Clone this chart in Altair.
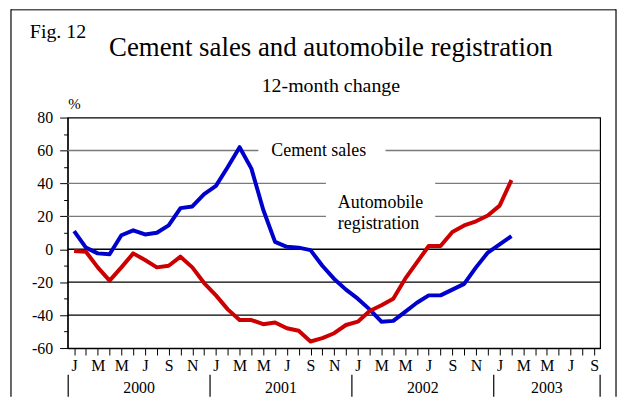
import altair as alt
import pandas as pd

# ---- data ----
month_letters = ["J", "F", "M", "A", "M", "J", "J", "A", "S", "O", "N", "D"]
tick_months = list(range(45))          # Jan 2000 .. Sep 2003
years = ["2000", "2001", "2002", "2003"]
year_centers = [5.5, 17.5, 29.5, 40.0]
year_bounds = [-0.5, 11.5, 23.5, 35.5, 44.5]
months = list(range(38))               # Jan 2000 .. Feb 2003
cement = [11, 1, -2.5, -3, 8.5, 11.5, 9, 10, 14.5, 25, 26, 33.5,
          38.5, 50, 62, 49, 24, 4.5, 1.5, 1, -0.5, -10, -18, -24.5,
          -30, -36.5, -44, -43.5, -38, -32.5, -28, -28, -24.5, -21, -11, -2,
          3, 8]
auto = [-1, -1.5, -11, -19, -11, -2.5, -6.5, -11, -10, -4.5, -11, -20.5,
        -28, -36.5, -43, -43, -45.5, -44.5, -48, -49.5, -56, -54, -51, -46,
        -44, -37.5, -34, -30, -18, -8, 2, 2, 10.5, 14.5, 17, 20.5,
        26.5, 42]
grid_vals = [60, 40, 20, 0, -20, -40]
grid_colors = ["#7a7a7a", "#7a7a7a", "#7a7a7a", "#000000", "#000000", "#000000"]
y_ticks = list(range(-60, 81, 10))
series_names = ["Cement sales", "Automobile registration"]
series_colors = ["#0000cc", "#cc0000"]

FONT = "Liberation Serif"

df = pd.DataFrame({
    "m": months * 2,
    "v": cement + auto,
    "s": [series_names[0]] * len(months) + [series_names[1]] * len(months),
})
grid_df = pd.DataFrame({"v": grid_vals, "c": grid_colors})
year_df = pd.DataFrame({"x": year_centers, "t": years})
bound_df = pd.DataFrame({"x": year_bounds})
one = pd.DataFrame({"a": [0]})

letters_js = "[" + ",".join("'%s'" % l for l in month_letters) + "]"

xscale = alt.Scale(domain=[-0.55, 44.5], nice=False, zero=False)
yscale = alt.Scale(domain=[-60, 80], nice=False, zero=False)

common = dict(
    grid=False, title=None, labelOverlap=False, labelFlush=False, labelBound=False,
    labelFont=FONT, labelFontSize=16, labelColor="black",
    domainColor="black", tickColor="black", domainWidth=1.2, tickWidth=1,
)
x_axis = alt.Axis(
    values=tick_months,
    labelExpr="datum.value % 2 === 0 ? " + letters_js + "[datum.value % 12] : ''",
    tickSize=7, labelPadding=3, labelAngle=0, **common,
)
y_axis = alt.Axis(
    values=y_ticks,
    labelExpr="datum.value % 20 === 0 ? '' + datum.value : ''",
    tickSize={"condition": {"test": "datum.value % 20 === 0", "value": 8}, "value": 4},
    labelPadding=7, **common,
)

grid = alt.Chart(grid_df).mark_rule(strokeWidth=1.3).encode(
    y=alt.Y("v:Q", scale=yscale, axis=y_axis),
    color=alt.Color("c:N", scale=None),
)

# white boxes behind the in-plot labels (pixel positions)
gap1 = alt.Chart(one).mark_rect(fill="white").encode(
    x=alt.value(192), x2=alt.value(320), y=alt.value(23), y2=alt.value(43))
gap2 = alt.Chart(one).mark_rect(fill="white").encode(
    x=alt.value(260), x2=alt.value(370), y=alt.value(55), y2=alt.value(112))

lbl1 = alt.Chart(one).mark_text(
    text="Cement sales", font=FONT, fontSize=18, align="left", baseline="middle", color="black"
).encode(x=alt.value(205), y=alt.value(34))
lbl2 = alt.Chart(one).mark_text(
    text=["Automobile", "registration"], font=FONT, fontSize=18, align="left",
    baseline="alphabetic", lineHeight=21, color="black"
).encode(x=alt.value(272), y=alt.value(91))

lines = alt.Chart(df).mark_line(strokeWidth=4, strokeJoin="round").encode(
    x=alt.X("m:Q", scale=xscale, axis=x_axis),
    y=alt.Y("v:Q", scale=yscale, axis=y_axis),
    color=alt.Color("s:N", scale=alt.Scale(domain=series_names, range=series_colors), legend=None),
    order=alt.Order("m:Q"),
)

year_lbl = alt.Chart(year_df).mark_text(
    font=FONT, fontSize=16, baseline="middle", align="center", color="black"
).encode(x=alt.X("x:Q", scale=xscale, axis=x_axis), y=alt.value(272), text="t:N")
year_sep = alt.Chart(bound_df).mark_rule(color="black", strokeWidth=1.2).encode(
    x=alt.X("x:Q", scale=xscale, axis=x_axis), y=alt.value(259), y2=alt.value(281))

title = alt.Chart(one).mark_text(
    text="Cement sales and automobile registration", font=FONT, fontSize=27,
    align="center", baseline="alphabetic", color="black"
).encode(x=alt.value(265), y=alt.value(-62))
subtitle = alt.Chart(one).mark_text(
    text="12-month change", font=FONT, fontSize=20,
    align="center", baseline="alphabetic", color="black"
).encode(x=alt.value(265), y=alt.value(-26))
fig = alt.Chart(one).mark_text(
    text="Fig. 12", font=FONT, fontSize=20, align="left", baseline="alphabetic", color="black"
).encode(x=alt.value(-38), y=alt.value(-80))
pct = alt.Chart(one).mark_text(
    text="%", font=FONT, fontSize=15, align="center", baseline="alphabetic", color="black"
).encode(x=alt.value(7), y=alt.value(-9))

frame_top = alt.Chart(one).mark_rule(color="#555555", strokeWidth=1.5).encode(
    x=alt.value(-57), x2=alt.value(552), y=alt.value(-108.5))
frame_left = alt.Chart(one).mark_rule(color="black", strokeWidth=1.2).encode(
    x=alt.value(-57), y=alt.value(-109), y2=alt.value(281))
frame_right = alt.Chart(one).mark_rule(color="black", strokeWidth=1.2).encode(
    x=alt.value(552), y=alt.value(-109), y2=alt.value(281))

chart = alt.layer(
    grid, gap1, gap2, lbl1, lbl2, lines, year_lbl, year_sep,
    title, subtitle, fig, pct, frame_top, frame_left, frame_right,
).properties(
    width=536, height=232, autosize="none", background="white",
    padding={"left": 60, "top": 109, "right": 18, "bottom": 49},
).configure_view(
    stroke="black", strokeWidth=1.2
).configure_axis(
    labelFont=FONT, labelFontSize=16, labelColor="black",
    domainColor="black", tickColor="black", labelOverlap=False,
)

chart.save("out.html", embed_options={"renderer": "svg", "actions": False})
